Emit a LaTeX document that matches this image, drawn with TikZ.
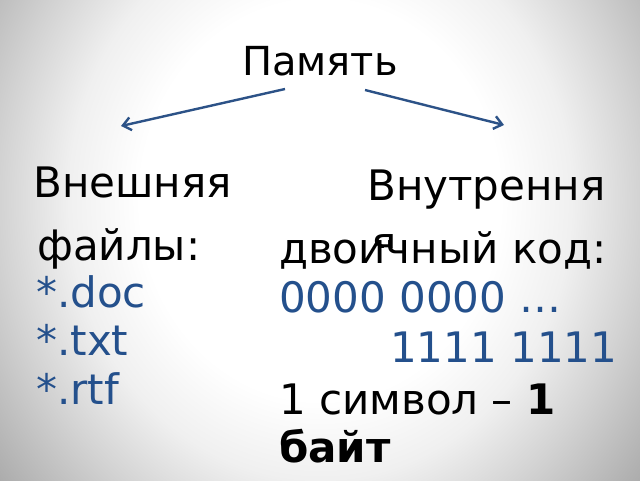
\documentclass[tikz,border=0pt]{standalone}
\usepackage{fontspec}
\setmainfont{DejaVu Sans}
\usetikzlibrary{arrows.meta}

\definecolor{linkblue}{RGB}{44,82,135}
\definecolor{textblue}{RGB}{36,80,140}
\pgfdeclareradialshading{slidebg}{\pgfpoint{0bp}{0bp}}{color(0bp)=(white); color(12.5bp)=(white); color(17.5bp)=(gray!12); color(22.3bp)=(gray!35); color(28.3bp)=(gray!65); color(50bp)=(gray!65)}

\begin{document}
\begin{tikzpicture}[x=1pt, y=-1pt,
    word/.style={anchor=base west, inner sep=0pt, font=\fontsize{42}{50}\selectfont},
    blueword/.style={word, text=textblue},
    link/.style={draw=linkblue, line width=2.4pt, -{Straight Barb[length=8pt,width=13pt]}}]
                \useasboundingbox (0,0) rectangle (640,480);
                \begin{scope}
                \clip (0,0) rectangle (640,480);
                \shade[shading=slidebg] (-40,-200) rectangle (680,600);
                \end{scope}
                % title and the two branches
                \node[word, anchor=base, font=\fontsize{40}{48}\selectfont] (P) at (320, 75) {Память};
                \coordinate (P1) at (285, 89);
                \coordinate (P2) at (365, 90);
                \coordinate (E1) at (121, 126);
                \coordinate (I1) at (504, 125);
                \draw[link] (P1) -- (E1);
                \draw[link] (P2) -- (I1);
                % left column
                \node[word] (E) at (33, 197) {Внешняя};
                \node[word] (F) at (37, 260) {файлы:};
                \node[blueword] (F1) at (36, 307) {*.doc};
                \node[blueword] (F2) at (36, 355) {*.txt};
                \node[blueword] (F3) at (36, 404) {*.rtf};
                % right column
                \node[word] (I) at (367, 200) {Внутрення};
                \begin{scope}
                \clip (360, 200) rectangle (420, 247);
                \node[word] (Iwrap) at (371, 257) {я};
                \end{scope}
                \node[word] (C) at (279, 263) {двоичный код:};
                \node[blueword] (C1) at (279, 312) {0000 0000 …};
                \node[blueword] (C2) at (390, 362) {1111 1111};
                \node[word] (S) at (279, 414) {1 символ – \textbf{1}};
                \node[word] (S1) at (279, 462) {\textbf{байт}};
\end{tikzpicture}
\end{document}
